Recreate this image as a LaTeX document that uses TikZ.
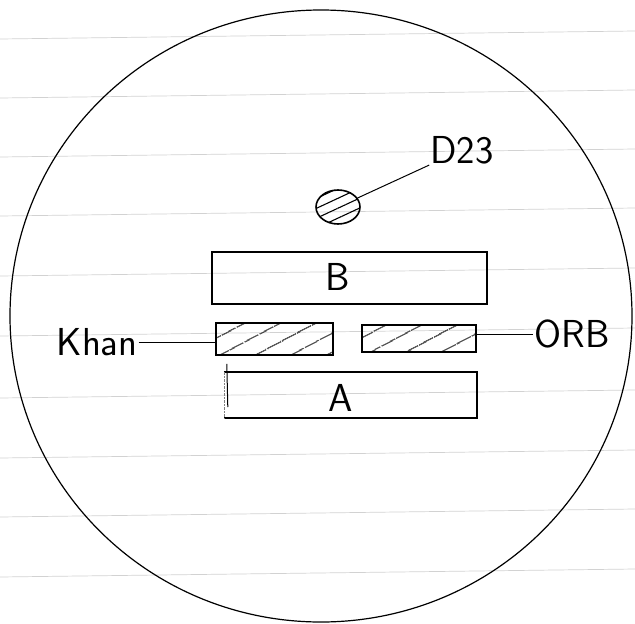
\documentclass[tikz,border=0pt]{standalone}
\usepackage{tikz}
\usetikzlibrary{patterns.meta,positioning,shapes.geometric}

\begin{document}
\begin{tikzpicture}[x=1pt, y=-1pt,
			part/.style={rectangle, draw=black, line width=1.8pt, inner sep=0pt},
			hatched/.style={pattern={Lines[angle=28, distance=17pt, line width=1.1pt]}},
			tag/.style={font=\sffamily\fontsize{39}{44}\selectfont, inner sep=1pt},
			leader/.style={line width=1pt},
			ruled/.style={gray!35, line width=0.7pt}]
		\useasboundingbox (0,0) rectangle (635,624);

		% notebook lines
		\foreach \ly in {39,98,157,216,276,336,398,458,517,577}
			\draw [ruled] (0,\ly) -- (635,\ly-8);

		\draw [line width=1.2pt] (321,316) ellipse [x radius=311, y radius=306];

		\node (B) [part, minimum width=275, minimum height=52] at (349.5,278) {};
		\node [tag] at (338,277) {B};

		\node (khanbox) [part, hatched, minimum width=117, minimum height=32] at (274.5,339) {};
		\node (orbbox) [part, hatched, minimum width=114, minimum height=27] at (419,338.5) {};

		\node (A) [rectangle, inner sep=0pt, minimum width=253, minimum height=46] at (350.5,395) {};
		\draw [line width=1.8pt] (A.north west) -- (A.north east) -- (A.south east) -- (A.south west);
		\draw [densely dotted, gray] (A.south west) -- (A.north west);
		\draw [line width=1pt] ([xshift=3, yshift=8]A.north west) -- ([xshift=4, yshift=-12]A.west);
		\node [tag] at (341,398) {A};

		\node (d23) [ellipse, draw=black, line width=1.6pt, pattern={Lines[angle=25, distance=9pt, line width=1.1pt]}, minimum width=44, minimum height=34] at (338,207) {};
		\node (d23lbl) [tag] at (462,150) {D23};

		\node (khanlbl) [tag] at (97,342) {Khan};
		\node (orblbl) [tag] at (572,334) {ORB};

		\draw [leader] (d23) -- (d23lbl.south west);
		\draw [leader] (khanlbl.east) -- (khanlbl.east -| khanbox.west);
		\draw [leader] (orbbox.east |- orblbl.west) -- (orblbl.west);
	\end{tikzpicture}
\end{document}
